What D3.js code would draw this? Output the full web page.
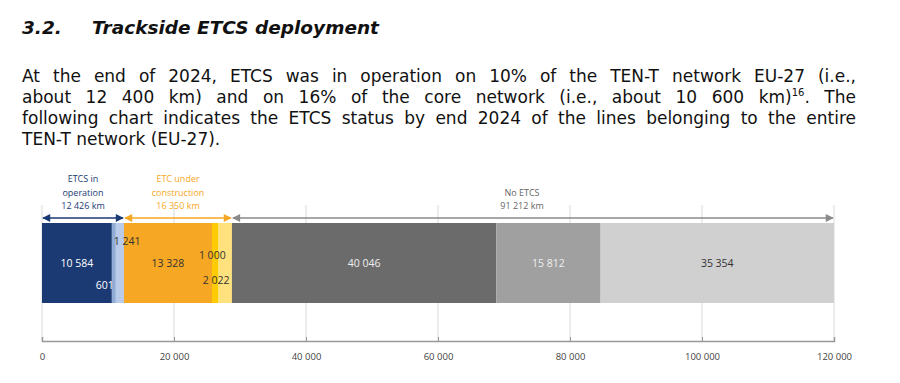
<!DOCTYPE html>
<html>
<head>
<meta charset="utf-8">
<script src="https://cdn.jsdelivr.net/npm/d3@7"></script>
<style>
  body { margin: 0; background: #fff; width: 900px; height: 383px; overflow: hidden; position: relative; }
  .txt { position: absolute; left: 22px; width: 834px; font-family: "DejaVu Sans", Verdana, sans-serif; color: #111; }
  .head { top: 17px; font-size: 18.5px; font-weight: bold; font-style: italic; }
  .head span { display: inline-block; width: 70px; }
  .line { font-size: 17px; white-space: nowrap; text-align: justify; text-align-last: justify; line-height: 21px; }
  .last { text-align-last: left; }
  sup { font-size: 10px; line-height: 0; }
  svg { position: absolute; left: 0; top: 0; }
</style>
</head>
<body>
<div class="txt head"><span>3.2.</span>Trackside ETCS deployment</div>
<div class="txt line" style="top:66px">At the end of 2024, ETCS was in operation on 10% of the TEN-T network EU-27 (i.e.,</div>
<div class="txt line" style="top:87px">about 12 400 km) and on 16% of the core network (i.e., about 10 600 km)<sup>16</sup>. The</div>
<div class="txt line" style="top:108px">following chart indicates the ETCS status by end 2024 of the lines belonging to the entire</div>
<div class="txt line last" style="top:129px">TEN-T network (EU-27).</div>
<svg width="900" height="383"></svg>
<script>
// segment values (km), one stacked bar
var segments = ["op_full", "op_part", "op_plan", "uc_main", "uc_b", "uc_c", "no_a", "no_b", "no_c"];
var values = [10584, 601, 1241, 13328, 1000, 2022, 40046, 15812, 35354];
var colors = ["#1b3a74", "#8fabd6", "#b9cbe9", "#f6a723", "#ffcb05", "#ffe27d", "#6b6b6b", "#a0a0a0", "#d0d0d0"];
var labelColors = ["#fff", "#fff", "#333", "#333", "#333", "#333", "#eee", "#eee", "#333"];

// groups shown with arrows above the bar
var groupNames = [["ETCS in", "operation", "12 426 km"], ["ETC under", "construction", "16 350 km"], ["No ETCS", "91 212 km"]];
var groupSpans = [[0, 3], [3, 6], [6, 9]];
var groupColors = ["#1b3a74", "#f6a723", "#8a8a8a"];

var tickValues = [0, 20000, 40000, 60000, 80000, 100000, 120000];

var fr = d3.formatLocale({decimal: ".", thousands: " ", grouping: [3], currency: ["", ""]});
var fmt = fr.format(",d");

var svg = d3.select("svg");
var x = d3.scaleLinear().domain([0, 120000]).range([42, 834]);
var barTop = 223, barBottom = 303, axisY = 341;

// gridlines
svg.selectAll(".grid").data(tickValues).enter().append("line")
  .attr("x1", d => x(d)).attr("x2", d => x(d))
  .attr("y1", 205).attr("y2", axisY)
  .attr("stroke", "#d9d9d9").attr("stroke-width", 1);

// stacked bar
var starts = [];
var acc = 0;
values.forEach(v => { starts.push(acc); acc += v; });

svg.selectAll(".seg").data(values).enter().append("rect")
  .attr("x", (d, i) => x(starts[i]))
  .attr("y", barTop)
  .attr("width", (d, i) => x(starts[i] + d) - x(starts[i]))
  .attr("height", barBottom - barTop)
  .attr("fill", (d, i) => colors[i]);

// segment labels
var labelDy = [0, 22, -22, 0, -8, 17, 0, 0, 0];
var labelDx = [0, -4, 0, 0, -3, -9, 0, 0, 0];
svg.selectAll(".lbl").data(values).enter().append("text")
  .attr("x", (d, i) => {
    var cx = (x(starts[i]) + x(starts[i] + d)) / 2;
    if (i === 1) return x(starts[i] + d) - 2;
    if (i === 2) return x(starts[i]) - 2;
    return cx + labelDx[i];
  })
  .attr("y", (d, i) => (barTop + barBottom) / 2 + 4 + labelDy[i])
  .attr("text-anchor", (d, i) => i === 1 ? "end" : (i === 2 ? "start" : "middle"))
  .attr("font-family", "'Liberation Sans Narrow', 'Open Sans', sans-serif")
  .attr("font-size", 10.5)
  .attr("fill", (d, i) => labelColors[i])
  .text(d => fmt(d));

// arrows
var defs = svg.append("defs");
groupColors.forEach((c, i) => {
  defs.append("marker").attr("id", "ah" + i)
    .attr("viewBox", "0 0 10 10").attr("refX", 9).attr("refY", 5)
    .attr("markerWidth", 9).attr("markerHeight", 8)
    .attr("markerUnits", "userSpaceOnUse")
    .attr("orient", "auto-start-reverse")
    .append("path").attr("d", "M0,0L10,5L0,10Z").attr("fill", c);
});
var arrowY = 218;
groupSpans.forEach((s, i) => {
  var x0 = x(starts[s[0]]);
  var x1 = x(starts[s[1] - 1] + values[s[1] - 1]);
  svg.append("line")
    .attr("x1", x0 + 1).attr("x2", x1 - 1)
    .attr("y1", arrowY).attr("y2", arrowY)
    .attr("stroke", groupColors[i]).attr("stroke-width", 1.6)
    .attr("marker-start", "url(#ah" + i + ")")
    .attr("marker-end", "url(#ah" + i + ")");
});

// group labels
var groupCx = [83, 178, 522];
groupNames.forEach((lines, i) => {
  var t = svg.append("text")
    .attr("text-anchor", "middle")
    .attr("font-family", "'Open Sans', 'Liberation Sans', sans-serif")
    .attr("font-size", 9)
    .attr("fill", i === 2 ? "#666" : groupColors[i]);
  var y0 = 212 - lines.length * 13.5;
  lines.forEach((l, j) => {
    t.append("tspan").attr("x", groupCx[i]).attr("y", y0 + 13.5 * (j + 1) - 3).text(l);
  });
});

// x axis
var axis = svg.append("g").attr("transform", "translate(0," + axisY + ")")
  .call(d3.axisBottom(x).tickValues(tickValues).tickSize(-4).tickPadding(12).tickFormat(d => fmt(d)));
axis.select(".domain").attr("stroke", "#999").attr("stroke-width", 1.5);
axis.selectAll(".tick line").attr("stroke", "#999");
axis.selectAll("text")
  .attr("font-family", "'Liberation Sans Narrow', 'Open Sans', sans-serif")
  .attr("font-size", 9.5).attr("fill", "#444");
</script>
</body>
</html>
